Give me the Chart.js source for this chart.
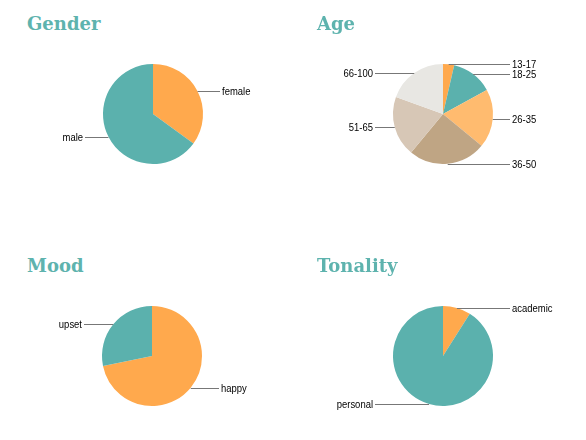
<!DOCTYPE html>
<html>
<head>
<meta charset="utf-8">
<script src="https://cdn.jsdelivr.net/npm/chart.js@4/dist/chart.umd.min.js"></script>
<style>
  html, body { margin: 0; padding: 0; background: #fff; }
  #wrap { position: relative; width: 586px; height: 440px; overflow: hidden; }
  .panel { position: absolute; width: 293px; height: 220px; }
  .panel h2 {
    position: absolute; margin: 0; left: 27px; top: 13px;
    font: bold 18px "DejaVu Serif", serif; color: #5eb3ae;
  }
  .panel canvas { position: absolute; left: 0; top: 0; }
</style>
</head>
<body>
<div id="wrap">
  <div class="panel" style="left:0;top:0"><h2>Gender</h2><canvas id="gender"></canvas></div>
  <div class="panel" style="left:290px;top:0"><h2>Age</h2><canvas id="age"></canvas></div>
  <div class="panel" style="left:0;top:242px"><h2>Mood</h2><canvas id="mood"></canvas></div>
  <div class="panel" style="left:290px;top:242px"><h2>Tonality</h2><canvas id="tonality"></canvas></div>
</div>
<script>
const TEAL = '#5bb1ad';
const ORANGE = '#ffa94d';

const genderLabels = ['female', 'male'];
const genderValues = [35, 65];
const genderColors = [ORANGE, TEAL];

const ageLabels = ['13-17', '18-25', '26-35', '36-50', '51-65', '66-100'];
const ageValues = [3.6, 13.4, 19, 25, 19.5, 19.5];
const ageColors = [ORANGE, TEAL, '#ffbb6f', '#bfa584', '#d7c7b6', '#e8e7e3'];

const moodLabels = ['happy', 'upset'];
const moodValues = [71.8, 28.2];
const moodColors = [ORANGE, TEAL];

const tonalityLabels = ['academic', 'personal'];
const tonalityValues = [9, 91];
const tonalityColors = [ORANGE, TEAL];

// leader lines + labels drawn next to each slice
const sideLabels = {
  id: 'sideLabels',
  afterDatasetsDraw(chart) {
    const ctx = chart.ctx;
    const arcs = chart.getDatasetMeta(0).data;
    ctx.save();
    ctx.font = '11px "Liberation Sans", Arial, sans-serif';
    ctx.textBaseline = 'middle';
    arcs.forEach((arc, i) => {
      const { x, y, startAngle, endAngle, outerRadius } = arc.getProps(['x', 'y', 'startAngle', 'endAngle', 'outerRadius'], true);
      const mid = (startAngle + endAngle) / 2;
      const px = x + Math.cos(mid) * outerRadius;
      const py = Math.round(y + Math.sin(mid) * outerRadius) + 0.5;
      const right = Math.cos(mid) >= 0;
      const ex = right ? x + 67 : x - 68;
      ctx.strokeStyle = '#777';
      ctx.lineWidth = 1;
      ctx.beginPath();
      ctx.moveTo(px, py);
      ctx.lineTo(ex, py);
      ctx.stroke();
      // text is a bit condensed in the original
      ctx.save();
      ctx.translate(right ? ex + 2 : ex - 2, py);
      ctx.scale(0.86, 1);
      ctx.fillStyle = '#000';
      ctx.textAlign = right ? 'left' : 'right';
      ctx.fillText(chart.data.labels[i], 0, 0);
      ctx.restore();
    });
    ctx.restore();
  }
};

function makePie(id, labels, values, colors, cx, cy) {
  const canvas = document.getElementById(id);
  canvas.width = 293;
  canvas.height = 220;
  const r = 50;
  return new Chart(canvas, {
    type: 'pie',
    data: {
      labels: labels,
      datasets: [{ data: values, backgroundColor: colors, borderWidth: 0 }]
    },
    options: {
      responsive: false,
      animation: false,
      radius: r,
      layout: { padding: { left: cx - r, top: cy - r, right: 293 - cx - r, bottom: 220 - cy - r } },
      plugins: { legend: { display: false }, tooltip: { enabled: false } }
    },
    plugins: [sideLabels]
  });
}

makePie('gender', genderLabels, genderValues, genderColors, 153, 114);
makePie('age', ageLabels, ageValues, ageColors, 153, 114);
makePie('mood', moodLabels, moodValues, moodColors, 152, 114);
makePie('tonality', tonalityLabels, tonalityValues, tonalityColors, 153, 114);
</script>
</body>
</html>
